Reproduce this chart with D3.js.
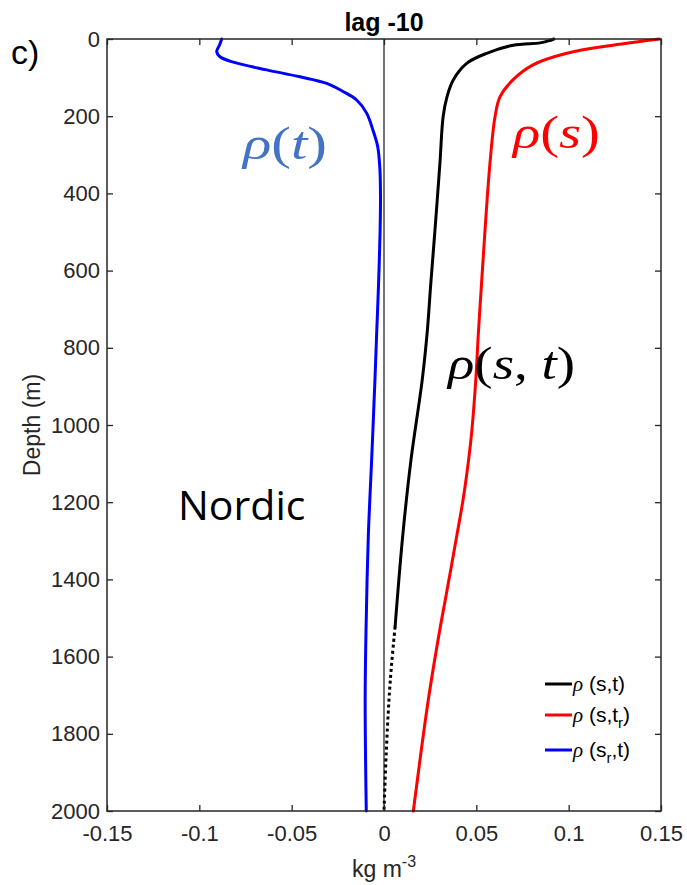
<!DOCTYPE html>
<html>
<head>
<meta charset="utf-8">
<script src="https://cdn.jsdelivr.net/npm/d3@7"></script>
<style>
  html, body { margin: 0; padding: 0; background: #ffffff; }
  svg { display: block; }
</style>
</head>
<body>
<script>
// Density anomaly profiles, Nordic Seas, lag -10
const depthST = [0, 5, 10, 16, 37, 63, 106, 150, 202, 321, 495, 642, 754, 883, 1091, 1289, 1523];
const rhoST   = [0.092, 0.089, 0.0845, 0.070, 0.0556, 0.0448, 0.0375, 0.0341, 0.0320, 0.0303, 0.0276, 0.0252, 0.0235, 0.0207, 0.0146, 0.0101, 0.0060];

// deeper part of rho(s,t), drawn dotted
const depthSTdeep = [1523, 1626, 1712, 1850, 2000];
const rhoSTdeep   = [0.0060, 0.0040, 0.0027, 0.0012, 0.0000];

const depthS = [0, 16, 37, 67, 106, 150, 202, 321, 495, 642, 754, 883, 1013, 1091, 1194, 1298, 1453, 1523, 1712, 2000];
const rhoS   = [0.149, 0.124, 0.099, 0.0807, 0.0698, 0.0628, 0.0601, 0.0574, 0.0547, 0.0527, 0.0512, 0.0497, 0.0476, 0.0458, 0.0428, 0.0390, 0.0332, 0.0305, 0.0240, 0.0159];

const depthT = [0, 15, 33, 46, 60, 80, 98, 115, 136, 158, 192, 236, 279, 339, 408, 495, 642, 754, 883, 1091, 1289, 1523, 1712, 2000];
const rhoT   = [-0.0879, -0.0890, -0.0906, -0.0888, -0.0816, -0.0635, -0.0455, -0.0310, -0.0222, -0.0148, -0.0094, -0.0060, -0.0034, -0.0022, -0.0019, -0.0021, -0.0030, -0.0039, -0.0049, -0.0067, -0.0085, -0.0097, -0.0102, -0.0096];

const xTicks = [-0.15, -0.1, -0.05, 0, 0.05, 0.1, 0.15];
const xTickLabels = ["-0.15", "-0.1", "-0.05", "0", "0.05", "0.1", "0.15"];
const yTicks = [0, 200, 400, 600, 800, 1000, 1200, 1400, 1600, 1800, 2000];
const yTickLabels = ["0", "200", "400", "600", "800", "1000", "1200", "1400", "1600", "1800", "2000"];

const W = 687, H = 885;
const plotL = 107, plotR = 661, plotT = 39, plotB = 811;
const axisColor = "#262626";
const sans = "'Liberation Sans', Arial, Helvetica, sans-serif";
const serif = "'Liberation Serif', 'Times New Roman', serif";

const svg = d3.select("body").append("svg")
  .attr("width", W).attr("height", H)
  .attr("viewBox", `0 0 ${W} ${H}`);

const x = d3.scaleLinear().domain([-0.15, 0.15]).range([plotL, plotR]);
const y = d3.scaleLinear().domain([0, 2000]).range([plotT, plotB]);

// zero reference line
svg.append("line")
  .attr("x1", x(0)).attr("x2", x(0))
  .attr("y1", y(0)).attr("y2", y(2000))
  .attr("stroke", "#000").attr("stroke-width", 1.1);

const line = d3.line()
  .x(d => x(d[1]))
  .y(d => y(d[0]))
  .curve(d3.curveCatmullRom.alpha(0.5));

function drawProfile(depths, values, color, dash) {
  const path = svg.append("path")
    .datum(depths.map((d, i) => [d, values[i]]))
    .attr("fill", "none")
    .attr("stroke", color)
    .attr("stroke-width", 3)
    .attr("stroke-linejoin", "round")
    .attr("d", line);
  if (dash) path.attr("stroke-dasharray", dash).attr("stroke-linecap", "butt");
  else path.attr("stroke-linecap", "round");
}

drawProfile(depthT, rhoT, "#0000ff");
drawProfile(depthS, rhoS, "#ff0000");
drawProfile(depthST, rhoST, "#000000");
drawProfile(depthSTdeep, rhoSTdeep, "#000000", "3,3");

// axes with inward ticks on all four sides
const gx = svg.append("g").attr("transform", `translate(0,${plotB})`)
  .call(d3.axisBottom(x).tickValues(xTicks)
    .tickFormat((d, i) => xTickLabels[i])
    .tickSizeInner(-6).tickSizeOuter(0).tickPadding(14));
const gy = svg.append("g").attr("transform", `translate(${plotL},0)`)
  .call(d3.axisLeft(y).tickValues(yTicks)
    .tickFormat((d, i) => yTickLabels[i])
    .tickSizeInner(-6).tickSizeOuter(0).tickPadding(7));
const gt = svg.append("g").attr("transform", `translate(0,${plotT})`)
  .call(d3.axisTop(x).tickValues(xTicks).tickFormat("")
    .tickSizeInner(-6).tickSizeOuter(0));
const gr = svg.append("g").attr("transform", `translate(${plotR},0)`)
  .call(d3.axisRight(y).tickValues(yTicks).tickFormat("")
    .tickSizeInner(-6).tickSizeOuter(0));

[gx, gy, gt, gr].forEach(g => {
  g.select(".domain").remove();
  g.selectAll(".tick line").attr("stroke", axisColor).attr("stroke-width", 1.3);
  g.selectAll(".tick text")
    .attr("fill", axisColor)
    .style("font-family", sans)
    .style("font-size", "22px");
});

svg.append("rect")
  .attr("x", plotL).attr("y", plotT)
  .attr("width", plotR - plotL).attr("height", plotB - plotT)
  .attr("fill", "none").attr("stroke", axisColor).attr("stroke-width", 1.5);

// title and panel letter
svg.append("text")
  .attr("x", x(0)).attr("y", 31)
  .attr("text-anchor", "middle")
  .style("font-family", sans).style("font-weight", "bold").style("font-size", "25px")
  .attr("fill", "#000")
  .text("lag -10");

svg.append("text")
  .attr("x", 11).attr("y", 64)
  .style("font-family", sans).style("font-size", "34px")
  .attr("fill", "#000")
  .text("c)");

// axis labels
svg.append("text")
  .attr("transform", `translate(40,${(plotT + plotB) / 2}) rotate(-90)`)
  .attr("text-anchor", "middle")
  .style("font-family", sans).style("font-size", "23px")
  .attr("fill", axisColor)
  .text("Depth (m)");

const xl = svg.append("text")
  .attr("x", x(0)).attr("y", 877)
  .attr("text-anchor", "middle")
  .style("font-family", sans).style("font-size", "23px")
  .attr("fill", axisColor);
xl.append("tspan").text("kg m");
xl.append("tspan").attr("dy", -10).style("font-size", "16px").text("-3");

// curve annotations
function mathLabel(parts, xPos, yPos, color, len) {
  const t = svg.append("text")
    .attr("x", xPos).attr("y", yPos)
    .attr("textLength", len).attr("lengthAdjust", "spacingAndGlyphs")
    .style("font-family", serif).style("font-size", "46px")
    .attr("fill", color);
  parts.forEach(p => t.append("tspan")
    .style("font-style", p.italic ? "italic" : "normal")
    .text(p.s));
}

mathLabel([{s: "ρ", italic: true}, {s: "("}, {s: "t", italic: true}, {s: ")"}],
  243, 159, "#4472c4", 84);
mathLabel([{s: "ρ", italic: true}, {s: "("}, {s: "s", italic: true}, {s: ")"}],
  513, 148, "#ff0000", 87);
mathLabel([{s: "ρ", italic: true}, {s: "("}, {s: "s", italic: true}, {s: ", "},
  {s: "t", italic: true}, {s: ")"}],
  448, 379, "#000000", 127);

svg.append("text")
  .attr("x", 178).attr("y", 520)
  .style("font-family", "'Open Sans', 'Noto Sans', sans-serif").style("font-size", "41px")
  .attr("fill", "#000")
  .text("Nordic");

// legend
const legendItems = [
  {color: "#000000", ly: 684, main: "(s,t", sub: null, tail: ")"},
  {color: "#ff0000", ly: 715, main: "(s,t", sub: "r", tail: ")"},
  {color: "#0000ff", ly: 750, main: "(s", sub: "r", tail: ",t)"}
];

legendItems.forEach(item => {
  svg.append("line")
    .attr("x1", 545).attr("x2", 572)
    .attr("y1", item.ly).attr("y2", item.ly)
    .attr("stroke", item.color).attr("stroke-width", 3);
  const t = svg.append("text")
    .attr("x", 573).attr("y", item.ly + 7)
    .style("font-family", sans).style("font-size", "21px")
    .attr("fill", "#000");
  t.append("tspan").style("font-family", serif).style("font-style", "italic").text("ρ");
  t.append("tspan").text(" " + item.main);
  if (item.sub) {
    t.append("tspan").attr("dy", 6).style("font-size", "15px").text(item.sub);
    t.append("tspan").attr("dy", -6).text(item.tail);
  } else {
    t.append("tspan").text(item.tail);
  }
});
</script>
</body>
</html>
